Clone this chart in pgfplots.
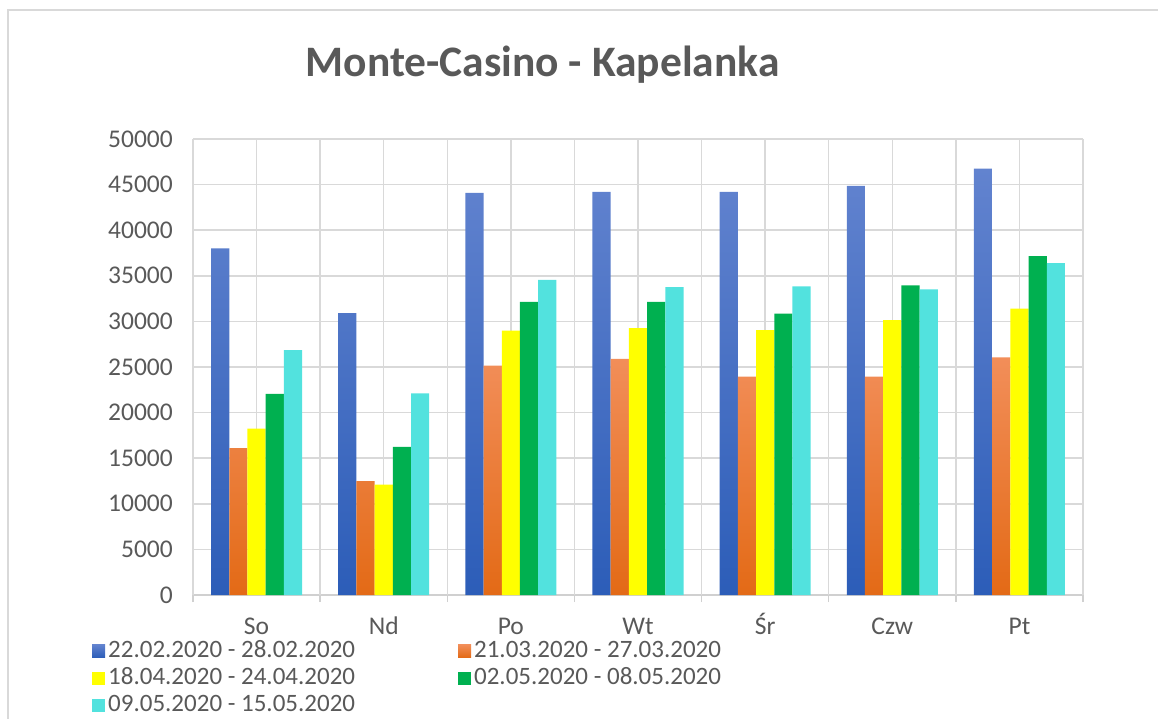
\documentclass[border=0pt]{standalone}
\usepackage{fontspec}
\setmainfont{Carlito}
\usepackage{pgfplots}
\pgfplotsset{compat=1.18}
\definecolor{txt}{HTML}{595959}
\definecolor{gridc}{HTML}{D9D9D9}
\definecolor{axc}{HTML}{D0D0D0}
\definecolor{btop}{HTML}{6283CF}
\definecolor{bbot}{HTML}{2C5DB8}
\definecolor{otop}{HTML}{F28E59}
\definecolor{obot}{HTML}{E36A16}
\definecolor{yel}{HTML}{FFFF00}
\definecolor{grn}{HTML}{00B050}
\definecolor{cya}{HTML}{52E2DE}
\begin{document}
\begin{tikzpicture}
\path[use as bounding box] (0pt,0pt) rectangle (1158pt,-719pt);
\draw[gridc, line width=1.5pt] (8pt,-719pt) -- (8pt,-10pt) -- (1160pt,-10pt);
\node[anchor=base, font=\fontsize{43.5}{50}\selectfont\bfseries, text=txt, inner sep=0pt] at (542.5pt,-77pt) {Monte-Casino - Kapelanka};
\begin{axis}[
  at={(193pt,-595pt)}, anchor=south west,
  scale only axis, width=890pt, height=456pt,
  ymin=0, ymax=50000, ytick={0,5000,...,50000},
  scaled y ticks=false,
  yticklabel={\pgfmathprintnumber[fixed, precision=0, 1000 sep={}]{\tick}},
  xmin=-0.5, xmax=6.5,
  xtick={0,...,6}, xticklabels={So,Nd,Po,Wt,Śr,Czw,Pt},
  extra x ticks={-0.5,0.5,...,6.5}, extra x tick labels={},
  extra x tick style={major tick length=7pt, tick align=outside, tick style={draw=axc, line width=1.5pt}},
  xtick pos=bottom, ytick pos=left,
  major tick length=0pt,
  grid=major, major grid style={draw=gridc, line width=1.5pt},
  axis x line*=bottom, axis y line*=left,
  x axis line style={draw=axc, line width=2pt},
  y axis line style={draw=none},
  /pgf/number format/1000 sep={},
  /pgf/number format/assume math mode=true,
  tick label style={font=\fontsize{25.5}{30}\selectfont, text=txt},
  yticklabel style={anchor=east, inner sep=0pt, xshift=-20pt},
  xticklabel style={anchor=north, inner sep=0pt, text height=17pt, text depth=5pt, yshift=-22pt},
  ybar=0pt, bar width=0.1432,
  legend columns=2,
  legend style={at={(rel axis cs:-0.1135,-0.093)}, anchor=north west, draw=none, fill=none, inner sep=0pt,
    font=\fontsize{25}{30}\selectfont, text=txt,
    nodes={inner sep=3pt, text height=17pt, text depth=4pt},
    /tikz/every even column/.append style={column sep=100pt}},
  legend image code/.code={\path[#1] (0pt,-6.5pt) rectangle (13pt,6.5pt);},
]
\addplot[draw=none, top color=btop, bottom color=bbot] coordinates {(0,38000) (1,30900) (2,44100) (3,44200) (4,44200) (5,44850) (6,46750)};
\addplot[draw=none, top color=otop, bottom color=obot] coordinates {(0,16100) (1,12500) (2,25150) (3,25900) (4,23950) (5,23950) (6,26050)};
\addplot[draw=none, fill=yel] coordinates {(0,18250) (1,12100) (2,29000) (3,29250) (4,29050) (5,30150) (6,31400)};
\addplot[draw=none, fill=grn] coordinates {(0,22050) (1,16250) (2,32150) (3,32150) (4,30850) (5,33950) (6,37150)};
\addplot[draw=none, fill=cya] coordinates {(0,26850) (1,22100) (2,34550) (3,33750) (4,33850) (5,33500) (6,36400)};
\legend{22.02.2020 - 28.02.2020, 21.03.2020 - 27.03.2020, 18.04.2020 - 24.04.2020, 02.05.2020 - 08.05.2020, 09.05.2020 - 15.05.2020}
\end{axis}
\end{tikzpicture}
\end{document}
